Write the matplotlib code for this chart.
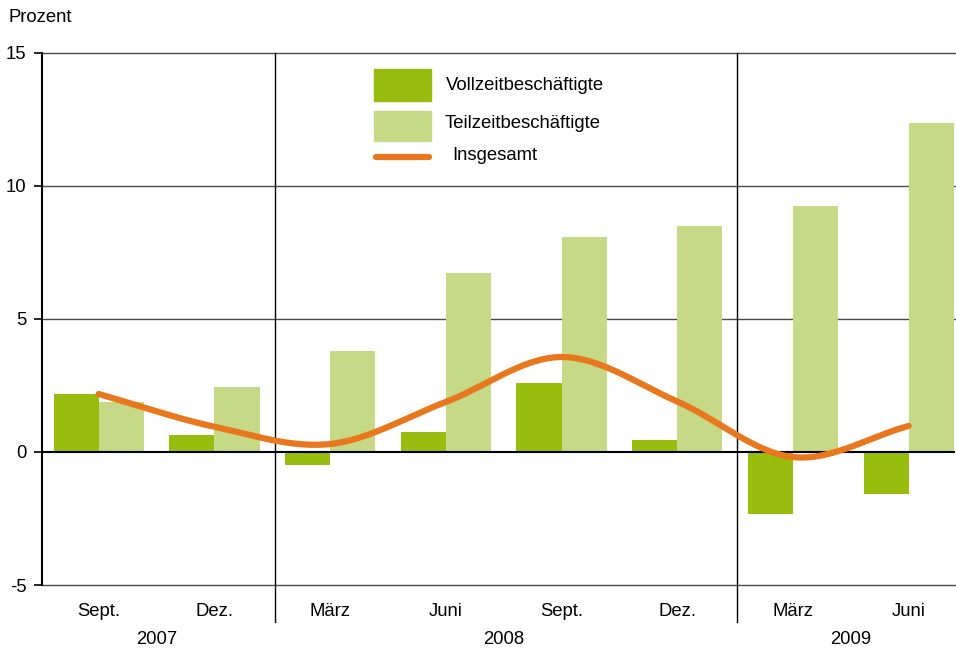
import numpy as np
import matplotlib
matplotlib.use('Agg')
import matplotlib.pyplot as plt
from matplotlib.patches import Rectangle
from matplotlib.lines import Line2D
import matplotlib.transforms as mtransforms

plt.rcParams['font.family'] = ['Liberation Sans', 'DejaVu Sans']
plt.rcParams['font.size'] = 13.3

months = ['Sept.', 'Dez.', 'März', 'Juni', 'Sept.', 'Dez.', 'März', 'Juni']
years = ['2007', '2008', '2009']
year_groups = [[0, 1], [2, 3, 4, 5], [6, 7]]
vollzeit = [2.18, 0.64, -0.49, 0.75, 2.6, 0.45, -2.33, -1.58]
teilzeit = [1.88, 2.44, 3.8, 6.73, 8.08, 8.5, 9.25, 12.37]
insgesamt = [2.18, 0.95, 0.3, 1.88, 3.57, 1.9, -0.19, 0.98]

c_voll = '#99BD0F'
c_teil = '#C5D986'
c_ges = '#E8771E'


def catmull_rom(xs, ys, n=30):
    # smooth curve through the points (like the original's smoothed line)
    xs = np.asarray(xs, float)
    ys = np.asarray(ys, float)
    px = np.concatenate([[2 * xs[0] - xs[1]], xs, [2 * xs[-1] - xs[-2]]])
    py = np.concatenate([[2 * ys[0] - ys[1]], ys, [2 * ys[-1] - ys[-2]]])
    ox, oy = [], []
    t = np.linspace(0, 1, n, endpoint=False)
    for i in range(1, len(px) - 2):
        for p, o in ((px, ox), (py, oy)):
            p0, p1, p2, p3 = p[i - 1], p[i], p[i + 1], p[i + 2]
            o.extend(0.5 * (2 * p1 + (-p0 + p2) * t
                            + (2 * p0 - 5 * p1 + 4 * p2 - p3) * t ** 2
                            + (-p0 + 3 * p1 - 3 * p2 + p3) * t ** 3))
    ox.append(xs[-1])
    oy.append(ys[-1])
    return np.array(ox), np.array(oy)


W, H = 956, 650
fig = plt.figure(figsize=(W / 100, H / 100), dpi=100)
ax = fig.add_axes([0.0439, 0.1, 0.955, 0.8185])

x = np.arange(len(months))
w = 0.39
ax.bar(x - w / 2, vollzeit, w, color=c_voll, zorder=2)
ax.bar(x + w / 2, teilzeit, w, color=c_teil, zorder=2)

sx, sy = catmull_rom(x, insgesamt)
ax.plot(sx, sy, color=c_ges, lw=4.5, solid_capstyle='round', zorder=4)

ax.set_xlim(-0.49, 7.4)
ax.set_ylim(-5, 15)
ax.set_yticks([-5, 0, 5, 10, 15])
ax.set_yticklabels(['-5', '0', '5', '10', '15'])
ax.set_xticks([])
ax.tick_params(axis='y', length=6, width=1.2, pad=5, colors='black')

for v in [-5, 5, 10, 15]:
    ax.axhline(v, color='#4a4a4a', lw=1.0, zorder=1, clip_on=False)
ax.axhline(0, color='black', lw=1.5, zorder=3)

for s in ['top', 'right', 'bottom']:
    ax.spines[s].set_visible(False)
ax.spines['left'].set_linewidth(1.5)

for sep in [1.52, 5.52]:
    ax.axvline(sep, ymin=-0.07, ymax=1, color='black', lw=1.0, clip_on=False, zorder=3)

trans = mtransforms.blended_transform_factory(ax.transData, ax.transAxes)
for i, m in enumerate(months):
    ax.text(i, -0.05, m, transform=trans, ha='center', va='center')
for yr, grp in zip(years, year_groups):
    ax.text(np.mean(grp), -0.103, yr, transform=trans, ha='center', va='center')

fig.text(8 / W, 1 - 18 / H, 'Prozent', ha='left', va='center')

# legend, drawn by hand to match the spacing of the original
fig.patches.append(Rectangle((374 / W, 1 - 101 / H), 57 / W, 32 / H, color=c_voll,
                             transform=fig.transFigure, figure=fig))
fig.patches.append(Rectangle((374 / W, 1 - 141 / H), 57 / W, 30 / H, color=c_teil,
                             transform=fig.transFigure, figure=fig))
fig.lines.append(Line2D([376 / W, 429 / W], [1 - 157 / H, 1 - 157 / H], color=c_ges,
                        lw=4.5, solid_capstyle='round', transform=fig.transFigure))
fig.text(446 / W, 1 - 86 / H, 'Vollzeitbeschäftigte', ha='left', va='center')
fig.text(445 / W, 1 - 124 / H, 'Teilzeitbeschäftigte', ha='left', va='center')
fig.text(452 / W, 1 - 155 / H, 'Insgesamt', ha='left', va='center')

fig.savefig('out.png', dpi=100)
